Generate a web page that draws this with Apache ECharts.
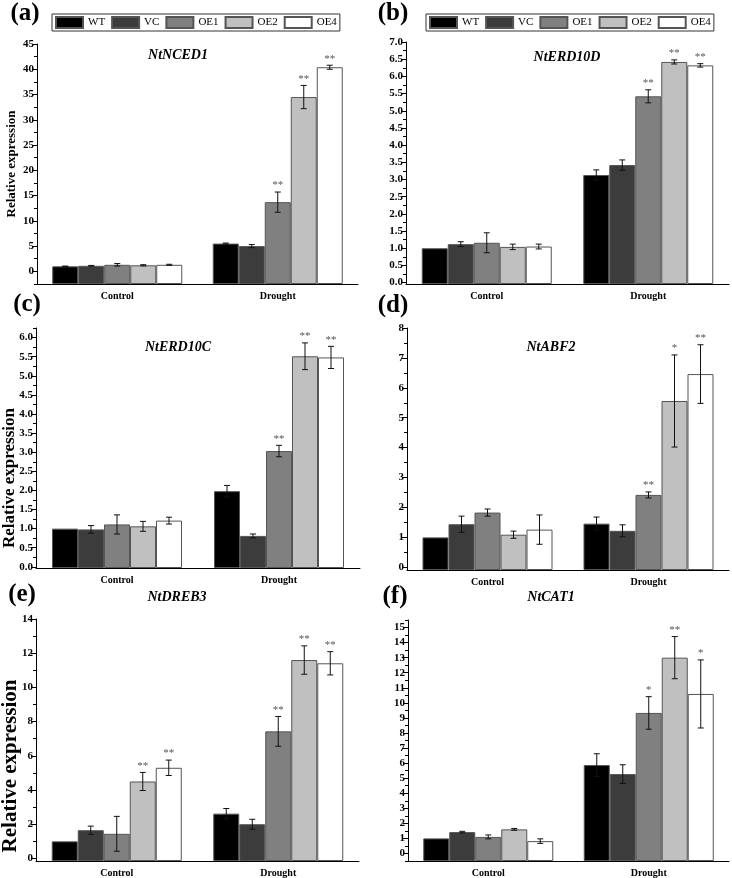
<!DOCTYPE html>
<html>
<head>
<meta charset="utf-8">
<script src="https://cdn.jsdelivr.net/npm/echarts@6/dist/echarts.min.js"></script>
<style>
html,body{margin:0;padding:0;background:#fff;}
#chart{width:732px;height:878px;}
</style>
</head>
<body>
<div id="chart"></div>
<script>
// ---------- data ----------
const groups = ['Control', 'Drought'];
const lines = ['WT', 'VC', 'OE1', 'OE2', 'OE4'];
const lineColors = ['#000000', '#3c3c3c', '#808080', '#c0c0c0', '#ffffff'];

// each row: [Control, Drought] for WT, VC, OE1, OE2, OE4
const nced1Mean = [[1.0, 5.5], [1.1, 5.0], [1.3, 13.7], [1.2, 34.5], [1.3, 40.4]];
const nced1Err  = [[0.05, 0.1], [0.08, 0.3], [0.25, 2.0], [0.12, 2.3], [0.1, 0.4]];
const nced1Star = [['', ''], ['', ''], ['', '**'], ['', '**'], ['', '**']];

const erd10dMean = [[1.0, 3.13], [1.12, 3.42], [1.16, 5.42], [1.04, 6.42], [1.05, 6.32]];
const erd10dErr  = [[0, 0.15], [0.07, 0.15], [0.29, 0.19], [0.08, 0.06], [0.07, 0.05]];
const erd10dStar = [['', ''], ['', ''], ['', '**'], ['', '**'], ['', '**']];

const erd10cMean = [[1.0, 1.98], [0.98, 0.81], [1.11, 3.03], [1.06, 5.51], [1.21, 5.48]];
const erd10cErr  = [[0, 0.15], [0.1, 0.05], [0.25, 0.15], [0.13, 0.35], [0.09, 0.29]];
const erd10cStar = [['', ''], ['', ''], ['', '**'], ['', '**'], ['', '**']];

const abf2Mean = [[1.0, 1.46], [1.44, 1.22], [1.83, 2.42], [1.09, 5.56], [1.26, 6.46]];
const abf2Err  = [[0, 0.22], [0.27, 0.2], [0.12, 0.1], [0.12, 1.54], [0.49, 0.98]];
const abf2Star = [['', ''], ['', ''], ['', '**'], ['', '*'], ['', '**']];

const dreb3Mean = [[1.0, 2.62], [1.65, 2.0], [1.44, 7.43], [4.5, 11.6], [5.3, 11.41]];
const dreb3Err  = [[0, 0.3], [0.24, 0.29], [1.02, 0.87], [0.53, 0.83], [0.45, 0.68]];
const dreb3Star = [['', ''], ['', ''], ['', '**'], ['**', '**'], ['**', '**']];

const cat1Mean = [[1.0, 5.87], [1.42, 5.27], [1.1, 9.33], [1.6, 13.0], [0.82, 10.59]];
const cat1Err  = [[0, 0.75], [0.05, 0.62], [0.13, 1.08], [0.06, 1.4], [0.15, 2.26]];
const cat1Star = [['', ''], ['', ''], ['', '*'], ['', '**'], ['', '*']];

// tick labels (major) and minor tick positions
const nced1Ticks = [0, 5, 10, 15, 20, 25, 30, 35, 40, 45];
const nced1Minor = [-2.5, 2.5, 7.5, 12.5, 17.5, 22.5, 27.5, 32.5, 37.5, 42.5];
const erd10dTicks = [0, 0.5, 1, 1.5, 2, 2.5, 3, 3.5, 4, 4.5, 5, 5.5, 6, 6.5, 7];
const erd10dMinor = [0.25, 0.75, 1.25, 1.75, 2.25, 2.75, 3.25, 3.75, 4.25, 4.75, 5.25, 5.75, 6.25, 6.75];
const erd10cTicks = [0, 0.5, 1, 1.5, 2, 2.5, 3, 3.5, 4, 4.5, 5, 5.5, 6];
const erd10cMinor = [0.25, 0.75, 1.25, 1.75, 2.25, 2.75, 3.25, 3.75, 4.25, 4.75, 5.25, 5.75, 6.25];
const abf2Ticks = [0, 1, 2, 3, 4, 5, 6, 7, 8];
const abf2Minor = [0.5, 1.5, 2.5, 3.5, 4.5, 5.5, 6.5, 7.5];
const dreb3Ticks = [0, 2, 4, 6, 8, 10, 12, 14];
const dreb3Minor = [1, 3, 5, 7, 9, 11, 13];
const cat1Ticks = [0, 1, 2, 3, 4, 5, 6, 7, 8, 9, 10, 11, 12, 13, 14, 15];
const cat1Minor = [-0.5, 0.5, 1.5, 2.5, 3.5, 4.5, 5.5, 6.5, 7.5, 8.5, 9.5, 10.5, 11.5, 12.5, 13.5, 14.5, 15.5];

// ---------- layout ----------
const SERIF = '"Liberation Serif","Times New Roman","DejaVu Serif",serif';
const panels = [
  {tag: '(a)', gene: 'NtNCED1', mean: nced1Mean, err: nced1Err, star: nced1Star, ticks: nced1Ticks, minor: nced1Minor, dec: 0,
   min: -2.5, max: 45, grid: {left: 37, top: 44, width: 321, height: 240},
   tagPos: [25, 14], genePos: [178, 55], yName: {x: 12, y: 164, size: 13}, legend: {left: 52, top: 14}},
  {tag: '(b)', gene: 'NtERD10D', mean: erd10dMean, err: erd10dErr, star: erd10dStar, ticks: erd10dTicks, minor: erd10dMinor, dec: 1,
   min: -0.04, max: 7, grid: {left: 406, top: 42, width: 323, height: 242},
   tagPos: [393, 14], genePos: [567, 57], legend: {left: 426, top: 14}},
  {tag: '(c)', gene: 'NtERD10C', mean: erd10cMean, err: erd10cErr, star: erd10cStar, ticks: erd10cTicks, minor: erd10cMinor, dec: 1,
   min: -0.03, max: 6.25, grid: {left: 36, top: 328, width: 324, height: 240},
   tagPos: [27, 305], genePos: [178, 347], yName: {x: 10, y: 478, size: 17}},
  {tag: '(d)', gene: 'NtABF2', mean: abf2Mean, err: abf2Err, star: abf2Star, ticks: abf2Ticks, minor: abf2Minor, dec: 0,
   min: -0.09, max: 8, grid: {left: 407, top: 328, width: 322, height: 242},
   tagPos: [393, 306], genePos: [551, 347]},
  {tag: '(e)', gene: 'NtDREB3', mean: dreb3Mean, err: dreb3Err, star: dreb3Star, ticks: dreb3Ticks, minor: dreb3Minor, dec: 0,
   min: -0.15, max: 14, grid: {left: 36, top: 619, width: 323, height: 243},
   tagPos: [22, 595], genePos: [177, 597], yName: {x: 10.5, y: 766, size: 21}},
  {tag: '(f)', gene: 'NtCAT1', mean: cat1Mean, err: cat1Err, star: cat1Star, ticks: cat1Ticks, minor: cat1Minor, dec: 0,
   min: -0.5, max: 15.5, grid: {left: 408, top: 620, width: 321, height: 241},
   tagPos: [395, 597], genePos: [551, 597]}
];

const BAR_W = 26;
const grid = [], xAxis = [], yAxis = [], series = [], graphic = [], legend = [];

panels.forEach((p, k) => {
  grid.push(p.grid);
  // category axis with labels, ticks at centres
  xAxis.push({
    type: 'category', gridIndex: k, data: groups, position: 'bottom',
    axisLine: {onZero: false, lineStyle: {color: '#000', width: 1}},
    axisTick: {alignWithLabel: true, length: 4, lineStyle: {color: '#000'}},
    axisLabel: {fontFamily: SERIF, fontWeight: 'bold', fontSize: 10, color: '#000', margin: 7},
    splitLine: {show: false}
  });
  // boundary ticks
  xAxis.push({
    type: 'category', gridIndex: k, data: groups, position: 'bottom',
    axisLine: {show: false, onZero: false},
    axisTick: {alignWithLabel: false, length: 4, lineStyle: {color: '#000'}},
    axisLabel: {show: false}, splitLine: {show: false}
  });
  yAxis.push({
    type: 'value', gridIndex: k, min: p.min, max: p.max, startValue: p.min, position: 'left',
    axisLine: {show: true, onZero: false, lineStyle: {color: '#000', width: 1}},
    axisTick: {show: true, length: 5, customValues: p.ticks, lineStyle: {color: '#000'}},
    axisLabel: {customValues: p.ticks, formatter: v => Number(v).toFixed(p.dec),
      fontFamily: SERIF, fontWeight: 'bold', fontSize: 11, color: '#000', margin: 3},
    splitLine: {show: false}
  });
  yAxis.push({
    type: 'value', gridIndex: k, min: p.min, max: p.max, position: 'left',
    axisLine: {show: false, onZero: false},
    axisTick: {show: true, length: 3, customValues: p.minor, lineStyle: {color: '#000'}},
    axisLabel: {show: false}, splitLine: {show: false}
  });

  lines.forEach((name, i) => {
    series.push({
      type: 'bar', name: name, xAxisIndex: 2 * k, yAxisIndex: 2 * k,
      data: p.mean[i], barWidth: BAR_W, barGap: '0%',
      itemStyle: {color: lineColors[i], borderColor: '#555', borderWidth: 1},
      silent: true
    });
  });

  const ebData = [];
  lines.forEach((name, i) => {
    groups.forEach((g, j) => {
      ebData.push([j, i, p.mean[i][j], p.err[i][j], p.star[i][j]]);
    });
  });
  series.push({
    type: 'custom', xAxisIndex: 2 * k, yAxisIndex: 2 * k, z: 10, silent: true,
    data: ebData,
    renderItem: (params, api) => {
      const j = api.value(0), i = api.value(1), m = api.value(2), e = api.value(3);
      const star = ebData[params.dataIndex][4];
      const cx = api.coord([j, m])[0] + (i - 2) * BAR_W;
      const yT = api.coord([j, m + e])[1];
      const yB = api.coord([j, m - e])[1];
      const children = [];
      const ls = {stroke: '#111', lineWidth: 1};
      if (e > 0) {
        children.push({type: 'line', shape: {x1: cx, y1: yT, x2: cx, y2: yB}, style: ls});
        children.push({type: 'line', shape: {x1: cx - 3, y1: yT, x2: cx + 3, y2: yT}, style: ls});
        children.push({type: 'line', shape: {x1: cx - 3, y1: yB, x2: cx + 3, y2: yB}, style: ls});
      }
      if (star) {
        children.push({type: 'text', x: cx, y: yT - 1,
          style: {text: star, fill: '#555', font: '11px ' + SERIF, align: 'center', verticalAlign: 'bottom'}});
      }
      return {type: 'group', children: children};
    }
  });

  graphic.push({type: 'text', x: p.tagPos[0], y: p.tagPos[1],
    style: {text: p.tag, font: 'bold 25px ' + SERIF, fill: '#000', align: 'center', verticalAlign: 'middle'}});
  graphic.push({type: 'text', x: p.genePos[0], y: p.genePos[1],
    style: {text: p.gene, font: 'italic bold 14px ' + SERIF, fill: '#000', align: 'center', verticalAlign: 'middle'}});
  if (p.yName) {
    graphic.push({type: 'text', x: p.yName.x, y: p.yName.y, rotation: Math.PI / 2,
      style: {text: 'Relative expression', font: 'bold ' + p.yName.size + 'px ' + SERIF, fill: '#000', align: 'center', verticalAlign: 'middle'}});
  }
  if (p.legend) {
    legend.push({
      data: lines, left: p.legend.left, top: p.legend.top, orient: 'horizontal',
      icon: 'rect', itemWidth: 27, itemHeight: 11, itemGap: 6,
      padding: [2, 3, 2, 3], borderColor: '#333', borderWidth: 1,
      selectedMode: false,
      textStyle: {fontFamily: SERIF, fontSize: 11, color: '#000'}
    });
  }
});

const chart = echarts.init(document.getElementById('chart'), null, {renderer: 'canvas'});
chart.setOption({
  animation: false,
  backgroundColor: '#fff',
  grid, xAxis, yAxis, series, graphic, legend
});
</script>
</body>
</html>
